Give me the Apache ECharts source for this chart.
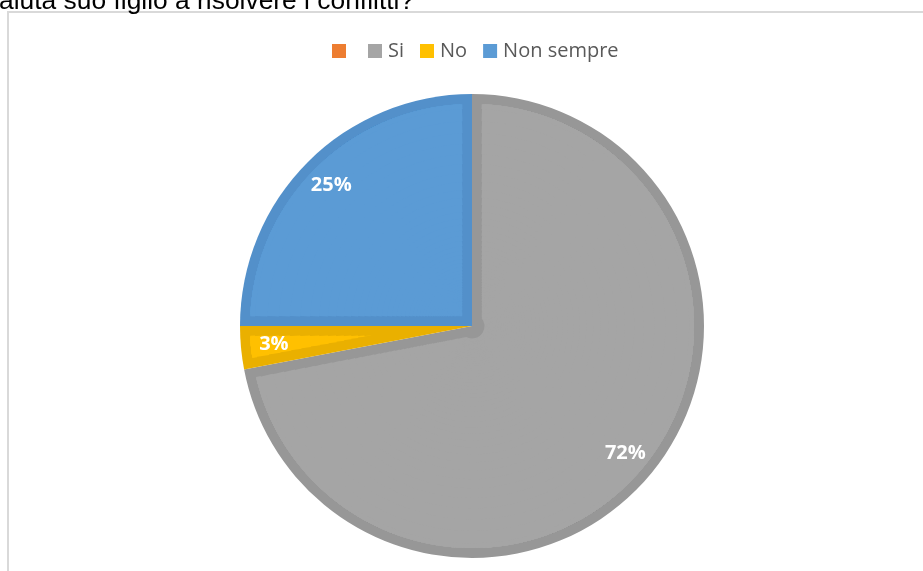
<!DOCTYPE html>
<html>
<head>
<meta charset="utf-8">
<script src="https://cdn.jsdelivr.net/npm/echarts@6/dist/echarts.min.js"></script>
<style>
html,body{margin:0;padding:0;background:#fff;}
#chart{width:923px;height:571px;}
</style>
</head>
<body>
<div id="chart"></div>
<script>
// Data
const titleText = 'aiuta suo figlio a risolvere i conflitti?';
const categories = ['\u200B', 'Si', 'No', 'Non sempre'];
const values = [0, 72, 3, 25];
const lightColors = ['#ED7D31', '#A5A5A5', '#FFC000', '#5B9BD5'];
const darkColors = ['#ED7D31', '#979797', '#EAB000', '#5390CA'];

const chart = echarts.init(document.getElementById('chart'), null, {renderer: 'canvas'});

const center = [472, 326];
const R = 232;          // outer radius of the pie
const band = 9.5;       // width of the darker inner edge of each slice
const TRANSPARENT = 'rgba(0,0,0,0)';

// ring inner radii used to build the lighter inset of each slice
const layerInner = [];
for (let r = 12.5; r < R - 14; r *= 1.06) layerInner.push(r);

const total = values.reduce((a, b) => a + b, 0);

// dark base pie
const series = [{
  type: 'pie',
  name: 'base',
  center: center,
  radius: [0, R],
  startAngle: 90,
  clockwise: true,
  silent: true,
  label: {show: false},
  labelLine: {show: false},
  itemStyle: {borderWidth: 0},
  data: categories.map((c, i) => ({name: c, value: values[i], itemStyle: {color: darkColors[i]}}))
}];

// lighter inset of each slice, built as stacked rings whose angular gap keeps the dark edge
// at a near-constant width (the library lays out every sector from the values)
categories.forEach((cat, i) => {
  if (values[i] <= 0) return;
  const before = values.slice(0, i).reduce((a, b) => a + b, 0);
  const after = values.slice(i + 1).reduce((a, b) => a + b, 0);
  const data = [];
  if (before > 0) data.push({name: '_b' + i, value: before, itemStyle: {color: TRANSPARENT}});
  data.push({name: cat, value: values[i], itemStyle: {color: lightColors[i]}});
  if (after > 0) data.push({name: '_a' + i, value: after, itemStyle: {color: TRANSPARENT}});
  const minDeg = Math.min(...data.map(d => d.value / total * 360));
  layerInner.forEach(r => {
    if (band >= r) return;
    const pad = 2 * Math.asin(band / r) * 180 / Math.PI;
    if (pad >= minDeg - 0.01) return;
    series.push({
      type: 'pie',
      center: center,
      radius: [r, R - 10],
      startAngle: 90,
      clockwise: true,
      padAngle: pad,
      silent: true,
      label: {show: false},
      labelLine: {show: false},
      itemStyle: {borderWidth: 0},
      data: data
    });
  });
});

// percentage labels
series.push({
  type: 'pie',
  name: 'labels',
  center: center,
  radius: [162, 230],
  startAngle: 90,
  clockwise: true,
  silent: true,
  itemStyle: {color: TRANSPARENT, borderWidth: 0},
  label: {
    show: true,
    position: 'inside',
    formatter: p => p.value + '%',
    color: '#ffffff',
    fontFamily: '"Open Sans", sans-serif',
    fontWeight: 'bold',
    fontSize: 20
  },
  labelLine: {show: false},
  data: categories.map((c, i) => ({name: c, value: values[i]})).filter(d => d.value > 0)
});

chart.setOption({
  backgroundColor: '#ffffff',
  animation: false,
  graphic: [
    {type: 'rect', shape: {x: 8, y: 12, width: 940, height: 600},
     style: {fill: 'none', stroke: '#D9D9D9', lineWidth: 2}, z: 0, silent: true},
    {type: 'text', x: -1, y: -11,
     style: {text: titleText, font: '26.4px "Liberation Sans", Arial, sans-serif', fill: '#000000'},
     z: 10, silent: true}
  ],
  legend: {
    left: 327,
    top: 36,
    itemWidth: 14,
    itemHeight: 14,
    itemGap: 16,
    icon: 'rect',
    selectedMode: false,
    textStyle: {fontFamily: '"Open Sans", sans-serif', fontSize: 20, color: '#595959', padding: [0, 0, 0, 1]},
    data: categories.map((c, i) => ({name: c, itemStyle: {color: lightColors[i]}}))
  },
  series: series
});
</script>
</body>
</html>
